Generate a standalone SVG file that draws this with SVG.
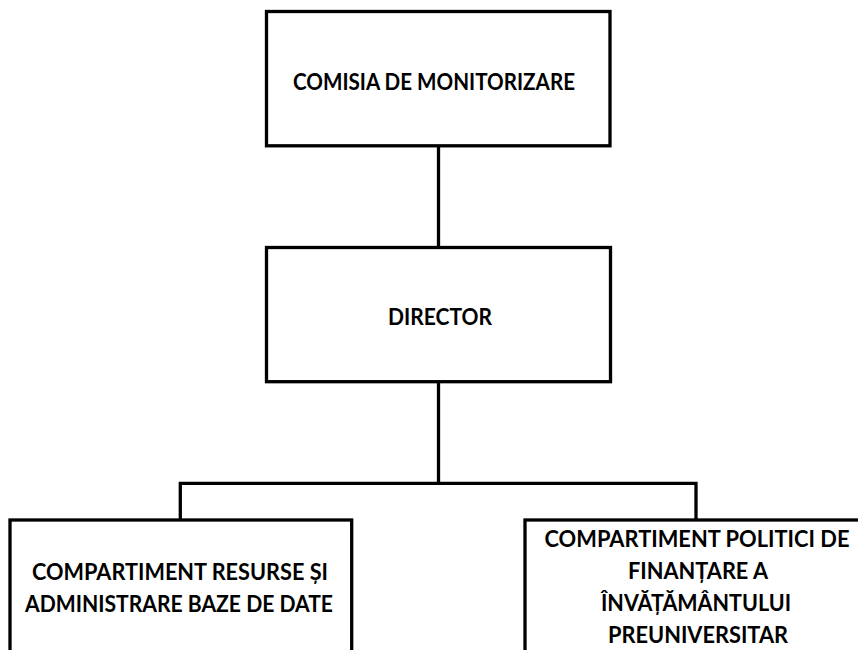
<svg xmlns="http://www.w3.org/2000/svg" width="858" height="650" viewBox="0 0 858 650">
<style>
.box{fill:#ffffff;stroke:#000000;stroke-width:3.3}
.lbl{font-family:Lato,"Open Sans","Liberation Sans",sans-serif;font-weight:bold;font-size:22px;fill:#000000;text-anchor:middle}
.conn{fill:none;stroke:#000000;stroke-width:3.3}
</style>
<rect x="0" y="0" width="858" height="650" fill="#ffffff"/>
<g id="connectors">
<path class="conn" d="M438.5 146 V247.5"/>
<path class="conn" d="M438.5 381.5 V483.3"/>
<path class="conn" d="M180.3 520 V483.3 H696 V520"/>
</g>
<g id="node-comisia">
<rect class="box" x="266.5" y="11.5" width="343.5" height="134.3"/>
<text class="lbl" x="434" y="90" textLength="282" lengthAdjust="spacingAndGlyphs">COMISIA DE MONITORIZARE</text>
</g>
<g id="node-director">
<rect class="box" x="266.5" y="247.5" width="344" height="134.2"/>
<text class="lbl" x="440" y="325" textLength="104" lengthAdjust="spacingAndGlyphs">DIRECTOR</text>
</g>
<g id="node-resurse">
<rect class="box" x="10" y="520" width="341.7" height="170"/>
<text class="lbl" x="180" y="580" textLength="296" lengthAdjust="spacingAndGlyphs">COMPARTIMENT RESURSE ȘI</text>
<text class="lbl" x="179" y="612" textLength="308" lengthAdjust="spacingAndGlyphs">ADMINISTRARE BAZE DE DATE</text>
</g>
<g id="node-politici">
<rect class="box" x="525" y="520" width="341.7" height="170"/>
<text class="lbl" x="697" y="547" textLength="305" lengthAdjust="spacingAndGlyphs">COMPARTIMENT POLITICI DE</text>
<text class="lbl" x="698" y="579" textLength="140" lengthAdjust="spacingAndGlyphs">FINANȚARE A</text>
<text class="lbl" x="696" y="611" textLength="190" lengthAdjust="spacingAndGlyphs">ÎNVĂȚĂMÂNTULUI</text>
<text class="lbl" x="698" y="643" textLength="180" lengthAdjust="spacingAndGlyphs">PREUNIVERSITAR</text>
</g>
</svg>
